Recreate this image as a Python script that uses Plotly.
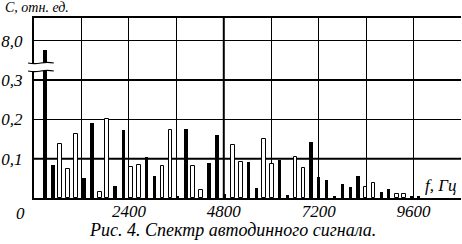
import plotly.graph_objects as go

# ---- data (display units on the broken y axis) ----
filled_freq = [276, 477, 1268, 1468, 2046, 2259, 2849, 3050, 3627, 3840, 4430, 4631,
               4819, 5422, 5622, 6212, 6413, 7002, 7203, 7404, 7605, 7806, 8007, 8195,
               8785, 8974, 9563, 9726]
filled_val = [0.377, 0.084, 0.052, 0.191, 0.031, 0.174, 0.104, 0.055, 0.004, 0.176, 0.089, 0.160,
              0.010, 0.092, 0.026, 0.096, 0.008, 0.142, 0.054, 0.046, 0.003, 0.036, 0.029, 0.056,
              0.015, 0.023, 0.005, 0.003]

hollow_freq = [665, 853, 1067, 1669, 1845, 2447, 2648, 3250, 3451, 4029, 4229, 5032,
               5233, 5810, 6011, 6613, 6814, 8384, 8584, 9174, 9362]
hollow_val = [0.137, 0.073, 0.162, 0.015, 0.200, 0.078, 0.083, 0.081, 0.173, 0.081, 0.020, 0.135,
              0.092, 0.150, 0.087, 0.104, 0.077, 0.027, 0.039, 0.010, 0.010]

x_tick_vals = [2400, 4800, 7200, 9600]
x_tick_text = ["2400", "4800", "7200", "9600"]
y_tick_vals = [0.1, 0.2, 0.3, 0.4]
y_tick_text = ["0,1", "0,2", "0,3", "8,0"]

FONT = dict(family="Liberation Serif", size=17, color="black", style="italic")
TITLE_FONT = dict(family="Liberation Serif", size=14, color="black", style="italic")
CAP_FONT = dict(family="Liberation Serif", size=18, color="black", style="italic")

fig = go.Figure()
fig.add_trace(go.Bar(x=filled_freq, y=filled_val, width=85,
                     marker=dict(color="black", line=dict(width=0)), showlegend=False))
fig.add_trace(go.Bar(x=hollow_freq, y=hollow_val, width=95,
                     marker=dict(color="white", line=dict(color="black", width=1)), showlegend=False))

# thicker grid lines
for yv in [0.1, 0.3]:
    fig.add_shape(type="line", xref="paper", yref="y", x0=0, x1=1, y0=yv, y1=yv,
                  line=dict(color="black", width=2), layer="below")
fig.add_shape(type="line", xref="x", yref="paper", x0=4800, x1=4800, y0=0, y1=1,
              line=dict(color="black", width=2), layer="below")

# axis break symbol
def px(x):
    return (x - 31) / 431
def py(y):
    return (198 - y) / 180

xa, xb = px(25), px(51)
ya, yb = py(63), py(71)
xm = (xa + xb) / 2
wave = 0.015
fig.add_shape(type="path", xref="paper", yref="paper",
              path=(f"M {xa},{ya} C {xm},{ya - wave} {xm},{ya + wave} {xb},{ya} "
                    f"L {xb},{yb} C {xm},{yb + wave} {xm},{yb - wave} {xa},{yb} Z"),
              fillcolor="white", line=dict(width=0), layer="above")
for yy in (ya, yb):
    fig.add_shape(type="path", xref="paper", yref="paper",
                  path=f"M {xa},{yy} C {xm},{yy - wave} {xm},{yy + wave} {xb},{yy}",
                  line=dict(color="black", width=1.2), layer="above")

fig.add_annotation(text="C, отн. ед.", xref="paper", yref="paper", x=px(0), y=py(8),
                   xanchor="left", yanchor="middle", showarrow=False, font=TITLE_FONT)
fig.add_annotation(text="f, Гц", xref="paper", yref="paper", x=px(459), y=py(185),
                   xanchor="right", yanchor="middle", showarrow=False, font=FONT)
fig.add_annotation(text="0", xref="paper", yref="paper", x=px(17.5), y=py(213),
                   xanchor="center", yanchor="middle", showarrow=False, font=FONT)
fig.add_annotation(text="Рис. 4. Спектр автодинного сигнала.", xref="paper", yref="paper",
                   x=px(231), y=py(230), xanchor="center", yanchor="middle",
                   showarrow=False, font=CAP_FONT)

fig.update_layout(
    width=462, height=244,
    margin=dict(l=31, r=1, t=18, b=46),
    paper_bgcolor="white", plot_bgcolor="white",
    barmode="overlay", bargap=0,
    xaxis=dict(range=[0, 10800], tickvals=x_tick_vals, ticktext=x_tick_text,
               showgrid=True, gridcolor="black", gridwidth=1,
               zeroline=False,
               showline=True, linecolor="black", linewidth=2, mirror=True,
               ticks="", tickfont=FONT, ticklabelstandoff=-3),
    yaxis=dict(range=[0, 0.458], tickvals=y_tick_vals, ticktext=y_tick_text,
               showgrid=True, gridcolor="black", gridwidth=1, zeroline=False,
               showline=True, linecolor="black", linewidth=2, mirror=False,
               ticks="", tickfont=FONT, ticklabelstandoff=6),
)
# vertical grid at the remaining 1200 Hz steps via minor grid
fig.update_xaxes(minor=dict(tickvals=[1200, 3600, 6000, 8400, 10800], showgrid=True,
                            gridcolor="black", gridwidth=1, ticks=""))

fig.write_html("out.html", config={"displayModeBar": False},
               post_script="document.body.style.margin='0';")
